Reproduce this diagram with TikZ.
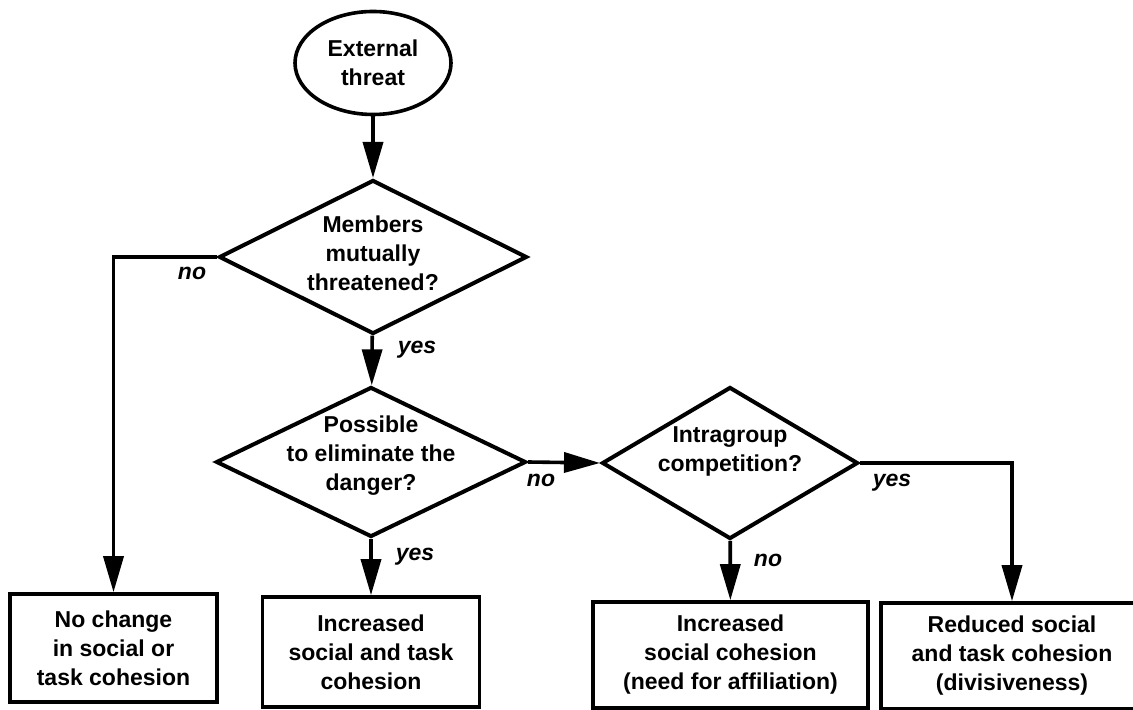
\documentclass[tikz,border=0pt]{standalone}
\usepackage{fontspec}
\setmainfont{Liberation Sans}
\usetikzlibrary{shapes.geometric,arrows.meta}
\begin{document}
\begin{tikzpicture}[x=0.5pt,y=-0.5pt,
  font=\fontsize{11.5}{14.5}\selectfont\bfseries,
  start/.style={ellipse,draw,line width=1.8pt,minimum width=78pt,minimum height=51.5pt,align=center,inner sep=0pt},
  decision/.style={diamond,draw,line width=2pt,inner sep=0pt},
  query/.style={align=center,inner sep=0pt},
  outcome/.style={rectangle,draw,line width=1.8pt,align=center,minimum height=54pt,inner sep=0pt},
  answer/.style={font=\fontsize{11.5}{14.5}\selectfont\bfseries\itshape},
  flow/.style={line width=1.8pt,-{Triangle[length=18pt,width=10pt]}}]
\useasboundingbox[fill=white] (0,0) rectangle (1133,710);
% start and questions
\node[start] (threat) at (373,63) {External\\threat};
\node[decision,minimum width=154pt,minimum height=77pt] (mutual) at (373,257) {};
\node[query] (mutualtext) at ([yshift=2pt]mutual) {Members\\mutually\\threatened?};
\node[decision,minimum width=155pt,minimum height=75pt] (danger) at (371,462) {};
\node[query] (dangertext) at ([yshift=3pt]danger) {Possible\\to eliminate the\\danger?};
\node[decision,minimum width=128pt,minimum height=76pt] (rivalry) at (730,463) {};
\node[query] (rivalrytext) at ([yshift=6pt]rivalry) {Intragroup\\competition?};
% outcomes
\node[outcome,minimum width=103.5pt] (nochange) at (113.5,648) {No change\\in social or\\task cohesion};
\node[outcome,minimum width=108.5pt,minimum height=55pt] (both) at (371,652) {Increased\\social and task\\cohesion};
\node[outcome,minimum width=137.5pt,minimum height=53pt] (social) at (730.5,655) {Increased\\social cohesion\\(need for affiliation)};
\node[outcome,minimum width=131pt,minimum height=53pt] (divided) at (1012,656) {Reduced social\\and task cohesion\\(divisiveness)};
% connectors
\draw[flow] (threat) -- (mutual);
\draw[flow] (mutual.west) -| (nochange.north);
\draw[flow] (mutual) -- (danger);
\draw[flow] (danger.east) -- (rivalry.west);
\draw[flow] (danger) -- (both);
\draw[flow] (rivalry) -- (social);
\draw[flow] (rivalry.east) -| (divided.north);
% answers
\node[answer] (mutualno) at (192,273) {no};
\node[answer] (mutualyes) at (417,350) {yes};
\node[answer] (dangerno) at (541,480) {no};
\node[answer] (dangeryes) at (415,557) {yes};
\node[answer] (rivalryyes) at (892,483) {yes};
\node[answer] (rivalryno) at (768,560) {no};
\end{tikzpicture}
\end{document}
